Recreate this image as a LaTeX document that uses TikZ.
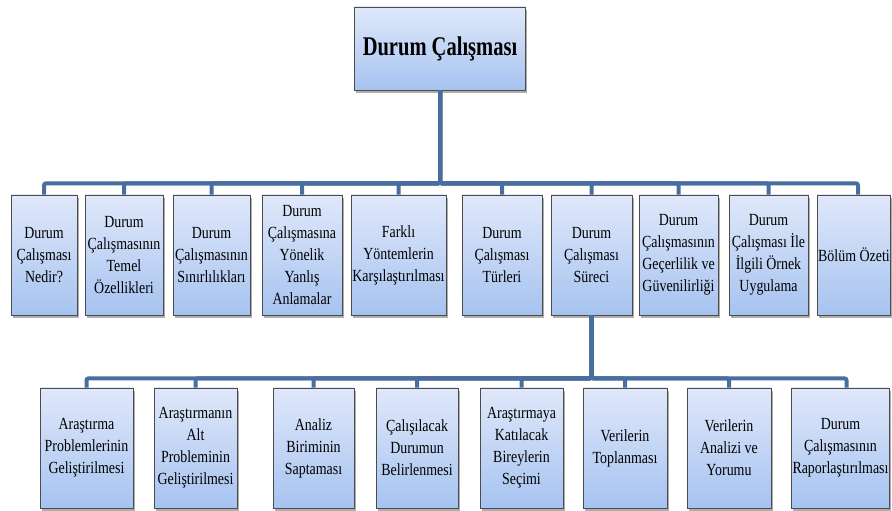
\documentclass[tikz,border=0pt]{standalone}
\usepackage{fontspec}
\setmainfont{Liberation Serif}[FakeStretch=0.82]
\newfontfamily\titlefont{Liberation Serif}[FakeStretch=0.76]
\usetikzlibrary{shadows}
\definecolor{linkblue}{RGB}{72,110,160}
\definecolor{boxtop}{RGB}{224,232,250}
\definecolor{boxbot}{RGB}{166,195,240}
\tikzset{
  box/.style={rectangle, draw=black!70, line width=.8pt, top color=boxtop, bottom color=boxbot,
    align=center, inner sep=1pt, minimum height=120pt,
    font=\fontsize{17}{22}\selectfont,
    drop shadow={shadow xshift=1.5pt, shadow yshift=-3pt, opacity=.45, fill=black!70}},
  link/.style={draw=linkblue, line width=4pt, rounded corners=2pt}
}
\begin{document}
\begin{tikzpicture}[x=1pt, y=1pt]
\useasboundingbox (0,0) rectangle (892,511);
\clip (0,0) rectangle (892,511);
% ust kutu
\node[box, minimum width=171pt, minimum height=83pt, font=\titlefont\fontsize{27}{30}\selectfont\bfseries] (root) at (440,462.5) {Durum Çalışması};
% ikinci duzey
\node[box, minimum width=66pt] (m1) at (44,256) {Durum\\Çalışması\\Nedir?};
\node[box, minimum width=78pt] (m2) at (124,256) {Durum\\Çalışmasının\\Temel\\Özellikleri};
\node[box, minimum width=77pt] (m3) at (211.5,256) {Durum\\Çalışmasının\\Sınırlılıkları};
\node[box, minimum width=80pt] (m4) at (302,256) {Durum\\Çalışmasına\\Yönelik\\Yanlış\\Anlamalar};
\node[box, minimum width=95pt] (m5) at (398.5,256) {Farklı\\Yöntemlerin\\Karşılaştırılması};
\node[box, minimum width=80pt] (m6) at (502,256) {Durum\\Çalışması\\Türleri};
\node[box, minimum width=81pt] (m7) at (591.5,256) {Durum\\Çalışması\\Süreci};
\node[box, minimum width=79pt] (m8) at (678.5,256) {Durum\\Çalışmasının\\Geçerlilik ve\\Güvenilirliği};
\node[box, minimum width=79pt] (m9) at (768.5,256) {Durum\\Çalışması İle\\İlgili Örnek\\Uygulama};
\node[box, minimum width=72pt] (m10) at (854,256) {Bölüm Özeti};
% surec alt basliklari
\node[box, minimum width=93pt] (s1) at (86.5,63) {Araştırma\\Problemlerinin\\Geliştirilmesi};
\node[box, minimum width=83pt] (s2) at (195.5,63) {Araştırmanın\\Alt\\Probleminin\\Geliştirilmesi};
\node[box, minimum width=81pt] (s3) at (313.5,63) {Analiz\\Biriminin\\Saptaması};
\node[box, minimum width=82pt] (s4) at (417,63) {Çalışılacak\\Durumun\\Belirlenmesi};
\node[box, minimum width=83pt] (s5) at (521.5,63) {Araştırmaya\\Katılacak\\Bireylerin\\Seçimi};
\node[box, minimum width=84pt] (s6) at (625,63) {Verilerin\\Toplanması};
\node[box, minimum width=84pt] (s7) at (729,63) {Verilerin\\Analizi ve\\Yorumu};
\node[box, minimum width=97pt] (s8) at (840.5,63) {Durum\\Çalışmasının\\Raporlaştırılması};
% baglantilar
\foreach \n in {m1,m2,m3,m4,m5,m6,m7,m8,m9}
  \draw[link] (root.south) -- ++(0,-93) -| (\n.north);
\draw[link] (root.south) -- ++(0,-93) -| ([xshift=4pt]m10.north);
\foreach \n in {s1,s2,s3,s4,s5,s6,s7}
  \draw[link] (m7.south) -- ++(0,-63) -| (\n.north);
\draw[link] (m7.south) -- ++(0,-63) -| ([xshift=6pt]s8.north);
\end{tikzpicture}
\end{document}
